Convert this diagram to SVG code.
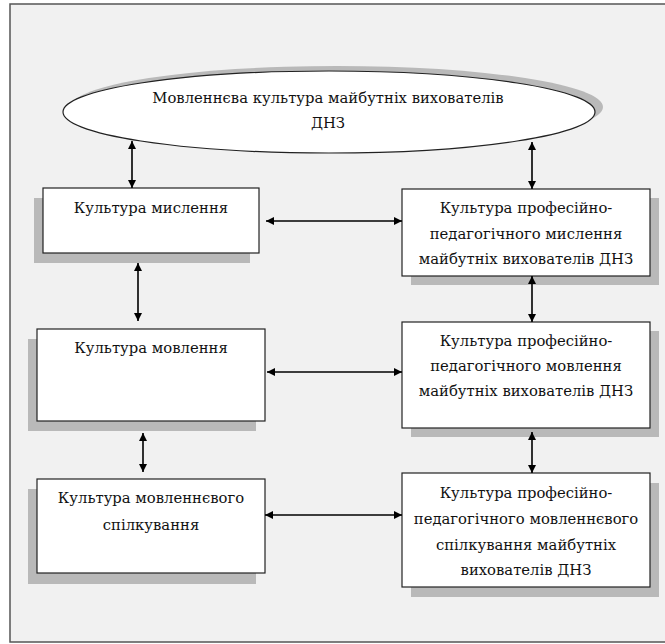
<svg xmlns="http://www.w3.org/2000/svg" width="665" height="644" viewBox="0 0 665 644">
  <style>
    .frame { fill: #f1f1f1; stroke: #555; stroke-width: 1.5; }
    .shadow { fill: #b9b9b9; stroke: none; }
    .box { fill: #ffffff; stroke: #222; stroke-width: 1.2; }
    .lbl { font-family: 'DejaVu Serif', serif; font-size: 14.8px; fill: #111; text-anchor: middle; }
    .conn { stroke: #000; stroke-width: 1.6; fill: none; marker-start: url(#ah); marker-end: url(#ah); }
  </style>
  <defs>
    <marker id="ah" viewBox="0 0 10 10" refX="10" refY="5" markerWidth="8" markerHeight="8" markerUnits="userSpaceOnUse" orient="auto-start-reverse">
      <path d="M0,0 L10,5 L0,10 Z" fill="#000"/>
    </marker>
  </defs>

  <!-- page background -->
  <rect class="frame" x="10" y="4" width="656" height="638"/>

  <!-- top ellipse -->
  <g id="node-top">
    <ellipse class="shadow" cx="337" cy="107" rx="266" ry="41"/>
    <ellipse class="box" cx="329" cy="112" rx="266" ry="41"/>
    <text class="lbl" x="328" y="103">Мовленнєва культура майбутніх вихователів</text>
    <text class="lbl" x="328" y="128">ДНЗ</text>
  </g>

  <!-- left column -->
  <g id="node-l1">
    <rect class="shadow" x="34" y="198" width="216" height="65"/>
    <rect class="box" x="43" y="188" width="216" height="65"/>
    <text class="lbl" x="151" y="213">Культура мислення</text>
  </g>
  <g id="node-l2">
    <rect class="shadow" x="28" y="339" width="228" height="92"/>
    <rect class="box" x="37" y="329" width="228" height="92"/>
    <text class="lbl" x="151" y="353">Культура мовлення</text>
  </g>
  <g id="node-l3">
    <rect class="shadow" x="28" y="489" width="228" height="95"/>
    <rect class="box" x="37" y="479" width="228" height="94"/>
    <text class="lbl" x="151" y="503">Культура мовленнєвого</text>
    <text class="lbl" x="151" y="530">спілкування</text>
  </g>

  <!-- right column -->
  <g id="node-r1">
    <rect class="shadow" x="411" y="198" width="248" height="87"/>
    <rect class="box" x="402" y="189" width="248" height="87"/>
    <text class="lbl" x="526" y="213">Культура професійно-</text>
    <text class="lbl" x="526" y="239">педагогічного мислення</text>
    <text class="lbl" x="526" y="264">майбутніх вихователів ДНЗ</text>
  </g>
  <g id="node-r2">
    <rect class="shadow" x="411" y="331" width="248" height="106"/>
    <rect class="box" x="402" y="322" width="248" height="106"/>
    <text class="lbl" x="526" y="346">Культура професійно-</text>
    <text class="lbl" x="526" y="371">педагогічного мовлення</text>
    <text class="lbl" x="526" y="396">майбутніх вихователів ДНЗ</text>
  </g>
  <g id="node-r3">
    <rect class="shadow" x="411" y="483" width="248" height="114"/>
    <rect class="box" x="402" y="473" width="248" height="114"/>
    <text class="lbl" x="526" y="498">Культура професійно-</text>
    <text class="lbl" x="526" y="524">педагогічного мовленнєвого</text>
    <text class="lbl" x="526" y="550">спілкування майбутніх</text>
    <text class="lbl" x="526" y="575">вихователів ДНЗ</text>
  </g>

  <!-- connectors -->
  <g id="connectors">
    <line class="conn" x1="132" y1="141" x2="132" y2="188"/>
    <line class="conn" x1="532" y1="142" x2="532" y2="189"/>
    <line class="conn" x1="138" y1="263" x2="138" y2="321"/>
    <line class="conn" x1="143" y1="433" x2="143" y2="472"/>
    <line class="conn" x1="532" y1="276" x2="532" y2="322"/>
    <line class="conn" x1="532" y1="432" x2="532" y2="473"/>
    <line class="conn" x1="266" y1="221" x2="402" y2="221"/>
    <line class="conn" x1="267" y1="372" x2="402" y2="372"/>
    <line class="conn" x1="265" y1="515" x2="402" y2="515"/>
  </g>
</svg>
